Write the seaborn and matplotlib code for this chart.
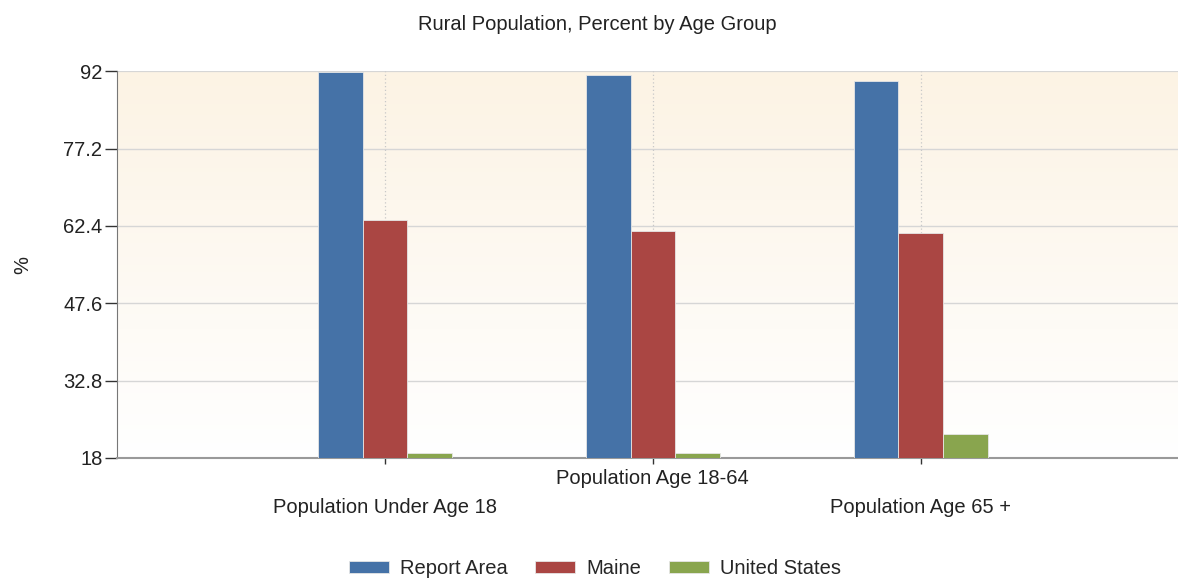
import numpy as np
import pandas as pd
import matplotlib
matplotlib.use("Agg")
import matplotlib.pyplot as plt
import seaborn as sns
from matplotlib.colors import LinearSegmentedColormap

categories = ["Population Under Age 18", "Population Age 18-64", "Population Age 65 +"]
series = ["Report Area", "Maine", "United States"]
report_area = [91.9, 91.2, 90.1]
maine = [63.6, 61.4, 61.1]
united_states = [18.9, 18.9, 22.5]
y_ticks = [18, 32.8, 47.6, 62.4, 77.2, 92]
colors = ["#4572A7", "#AA4643", "#89A54E"]

df = pd.DataFrame({
    "category": categories * 3,
    "series": [s for s in series for _ in categories],
    "value": report_area + maine + united_states,
})

sns.set_style("white")
plt.rcParams["font.family"] = ["Liberation Sans", "DejaVu Sans"]
fs = 14.5

fig = plt.figure(figsize=(11.78, 5.79), dpi=100)
ax = fig.add_axes([0.0993, 0.209, 0.9007, 0.668])

# background gradient: beige at top fading to white
cmap = LinearSegmentedColormap.from_list("bg", ["#FFFFFF", "#FCF3E4"])
grad = np.linspace(0, 1, 256).reshape(-1, 1)
ax.imshow(grad, cmap=cmap, aspect="auto", extent=[0, 1, 0, 1],
          transform=ax.transAxes, origin="lower", zorder=0)

sns.barplot(data=df, x="category", y="value", hue="series", palette=colors,
            saturation=1, width=0.5, gap=0, ax=ax, zorder=3,
            edgecolor="#E6E6E6", linewidth=0.6, legend=True)

ax.set_ylim(18, 92)
ax.set_xlim(-1, 2.96)
ax.set_yticks(y_ticks)
ax.set_yticklabels([f"{t:g}" for t in y_ticks], fontsize=fs, color="#222222")
ax.set_xticks(range(len(categories)))
ax.set_xticklabels([])

for i, lab in enumerate(categories):
    off = -0.052 if i % 2 == 1 else -0.127
    ax.text(i, off, lab, transform=ax.get_xaxis_transform(), ha="center",
            va="center", fontsize=fs, color="#222222")

for t in y_ticks:
    ax.axhline(t, color="#D6D6D6", lw=1.6 if t == 92 else 1, zorder=1)
for i in range(len(categories)):
    ax.axvline(i, color="#C8C8C8", lw=0.9, ls=(0, (1, 2)), zorder=1)

for s in ["top", "right"]:
    ax.spines[s].set_visible(False)
ax.spines["left"].set_color("#777777")
ax.spines["bottom"].set_color("#999999")
ax.spines["bottom"].set_linewidth(1.5)
ax.tick_params(axis="y", direction="out", length=8.5, width=1,
               color="#333333", left=True, pad=2)
ax.tick_params(axis="x", direction="out", length=4.5, width=1,
               color="#333333", bottom=True, pad=2)

ax.set_xlabel("")
ax.set_ylabel("%", fontsize=fs, color="#222222")
ax.yaxis.set_label_coords(-0.080, 0.5)
fig.text(0.507, 0.957, "Rural Population, Percent by Age Group",
         ha="center", va="center", fontsize=fs, color="#222222")

handles, labels = ax.get_legend_handles_labels()
ax.legend_.remove()
fig.legend(handles, labels, loc="center", bbox_to_anchor=(0.505, 0.018), ncol=3,
           frameon=False, fontsize=fs, handlelength=2.0, handleheight=0.5,
           columnspacing=1.35, handletextpad=0.55)

fig.savefig("out.png", dpi=100)
